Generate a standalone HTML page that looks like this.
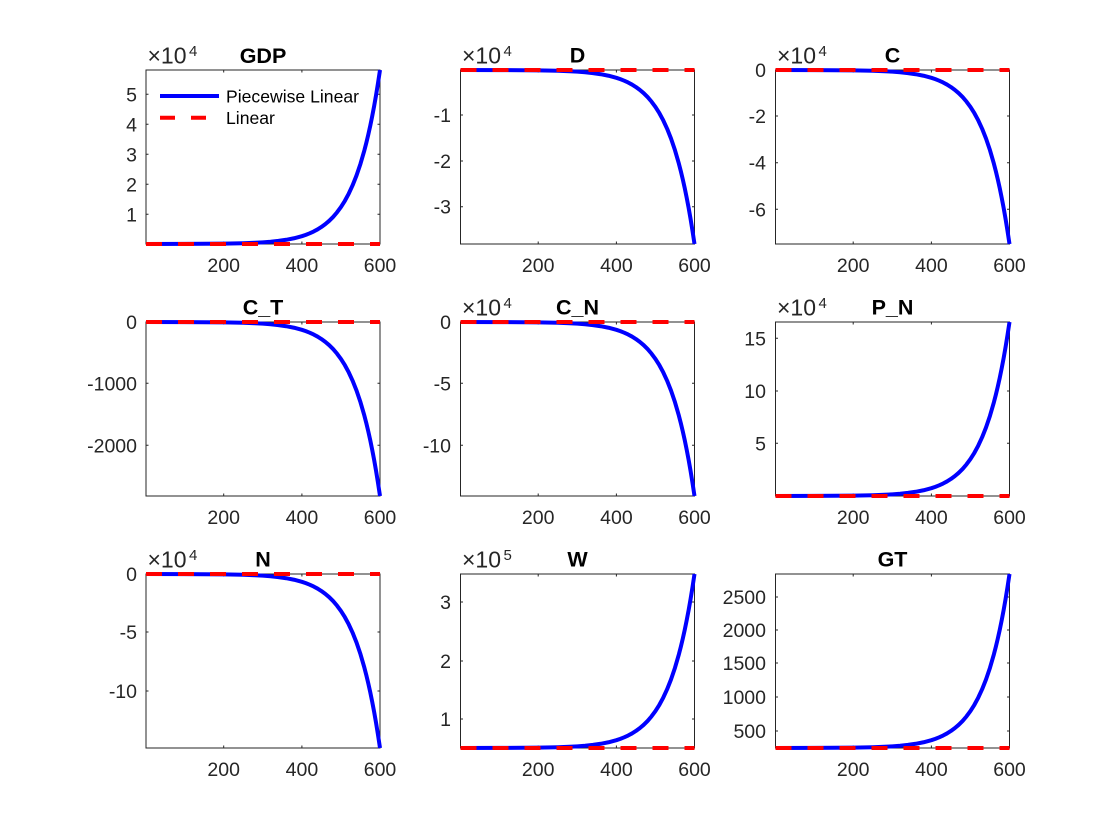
<!DOCTYPE html>
<html>
<head>
<meta charset="utf-8">
<style>
  html,body{margin:0;padding:0;background:#ffffff;}
  svg{display:block;}
  text{font-family:"Liberation Sans",Arial,Helvetica,sans-serif;}
  .tk{font-size:19.5px;fill:#262626;}
  .yl{text-anchor:end;}
  .xl{text-anchor:middle;}
  .ti{font-size:21.5px;font-weight:bold;fill:#000;text-anchor:middle;}
  .ex{font-size:23px;fill:#262626;}
  .es{font-size:15px;fill:#262626;}
  .lg{font-size:17.6px;fill:#000;}
  .ax{fill:#fff;stroke:#262626;stroke-width:1;}
  .tks{stroke:#262626;stroke-width:1;fill:none;}
  .bl{fill:none;stroke:#0000ff;stroke-width:4;stroke-linejoin:round;}
  .rd{stroke:#ff0000;stroke-width:4;stroke-dasharray:16 16;fill:none;}
</style>
</head>
<body>
<svg width="1120" height="840" viewBox="0 0 1120 840" xmlns="http://www.w3.org/2000/svg">
<defs>
<path id="cv" d="M0,0 L38.67,0.07 L77.74,0.35 L97.27,0.77 L108.99,1.22 L116.8,1.67 L124.62,2.26 L132.43,3.1 L140.24,4.21 L148.06,5.74 L155.87,7.83 L159.78,9.15 L163.68,10.68 L167.59,12.48 L171.49,14.56 L175.4,17.02 L179.3,19.87 L183.21,23.19 L187.12,27.09 L191.02,31.63 L194.93,36.92 L198.83,43.12 L202.74,50.36 L206.64,58.79 L210.55,68.66 L214.46,80.16 L218.36,93.59 L220.31,101.15 L222.27,109.31 L224.22,118.11 L226.17,127.61 L228.13,137.9 L230.08,149.01 L232.03,161.02 L234,174"/>
</defs>

<!-- GDP -->
<g>
<rect class="ax" x="146" y="70" width="234" height="174"/>
<path class="tks" d="M223.7,244v-2.5M301.9,244v-2.5M223.7,70v2.5M301.9,70v2.5
M146,214.3h2.5M146,184.3h2.5M146,154.3h2.5M146,124.3h2.5M146,94.3h2.5
M380,214.3h-2.5M380,184.3h-2.5M380,154.3h-2.5M380,124.3h-2.5M380,94.3h-2.5"/>
<use href="#cv" class="bl" transform="translate(146,244) scale(1,-1)"/>
<line class="rd" x1="146" y1="244" x2="380" y2="244"/>
<text class="tk yl" x="137" y="221.3">1</text>
<text class="tk yl" x="137" y="191.3">2</text>
<text class="tk yl" x="137" y="161.3">3</text>
<text class="tk yl" x="137" y="131.3">4</text>
<text class="tk yl" x="137" y="101.3">5</text>
<text class="tk xl" x="223.7" y="272">200</text>
<text class="tk xl" x="301.9" y="272">400</text>
<text class="tk xl" x="380" y="272">600</text>
<text class="ti" x="263" y="62.8">GDP</text>
<text class="ex" x="147.5" y="63.5">×10</text>
<text class="es" x="189" y="56">4</text>
<line x1="160" y1="96" x2="219" y2="96" stroke="#0000ff" stroke-width="4"/>
<text class="lg" x="226" y="102.3">Piecewise Linear</text>
<line x1="160" y1="117.7" x2="219" y2="117.7" stroke="#ff0000" stroke-width="4" stroke-dasharray="15 16"/>
<text class="lg" x="226" y="124">Linear</text>
</g>

<!-- D -->
<g>
<rect class="ax" x="460.5" y="70" width="234" height="174"/>
<path class="tks" d="M538.2,244v-2.5M616.4,244v-2.5M538.2,70v2.5M616.4,70v2.5
M460.5,115h2.5M460.5,161h2.5M460.5,206.7h2.5
M694.5,115h-2.5M694.5,161h-2.5M694.5,206.7h-2.5"/>
<use href="#cv" class="bl" transform="translate(460.5,70)"/>
<line class="rd" x1="460.5" y1="70" x2="694.5" y2="70"/>
<text class="tk yl" x="451" y="122">-1</text>
<text class="tk yl" x="451" y="168">-2</text>
<text class="tk yl" x="451" y="213.7">-3</text>
<text class="tk xl" x="538.2" y="272">200</text>
<text class="tk xl" x="616.4" y="272">400</text>
<text class="tk xl" x="694.5" y="272">600</text>
<text class="ti" x="577.5" y="62.5">D</text>
<text class="ex" x="462" y="63.5">×10</text>
<text class="es" x="503.5" y="56">4</text>
</g>

<!-- C -->
<g>
<rect class="ax" x="775.5" y="70" width="234" height="174"/>
<path class="tks" d="M853.2,244v-2.5M931.4,244v-2.5M853.2,70v2.5M931.4,70v2.5
M775.5,116h2.5M775.5,162.7h2.5M775.5,209.3h2.5
M1009.5,116h-2.5M1009.5,162.7h-2.5M1009.5,209.3h-2.5"/>
<use href="#cv" class="bl" transform="translate(775.5,70)"/>
<line class="rd" x1="775.5" y1="70" x2="1009.5" y2="70"/>
<text class="tk yl" x="766" y="77">0</text>
<text class="tk yl" x="766" y="123">-2</text>
<text class="tk yl" x="766" y="169.7">-4</text>
<text class="tk yl" x="766" y="216.3">-6</text>
<text class="tk xl" x="853.2" y="272">200</text>
<text class="tk xl" x="931.4" y="272">400</text>
<text class="tk xl" x="1009.5" y="272">600</text>
<text class="ti" x="892.5" y="62.5">C</text>
<text class="ex" x="777" y="63.5">×10</text>
<text class="es" x="818.5" y="56">4</text>
</g>

<!-- C_T -->
<g>
<rect class="ax" x="146" y="322" width="234" height="174"/>
<path class="tks" d="M223.7,496v-2.5M301.9,496v-2.5M223.7,322v2.5M301.9,322v2.5
M146,383.3h2.5M146,445.3h2.5
M380,383.3h-2.5M380,445.3h-2.5"/>
<use href="#cv" class="bl" transform="translate(146,322)"/>
<line class="rd" x1="146" y1="322" x2="380" y2="322"/>
<text class="tk yl" x="137" y="329">0</text>
<text class="tk yl" x="137" y="390.3">-1000</text>
<text class="tk yl" x="137" y="452.3">-2000</text>
<text class="tk xl" x="223.7" y="524">200</text>
<text class="tk xl" x="301.9" y="524">400</text>
<text class="tk xl" x="380" y="524">600</text>
<text class="ti" x="263" y="314.5">C_T</text>
</g>

<!-- C_N -->
<g>
<rect class="ax" x="460.5" y="322" width="234" height="174"/>
<path class="tks" d="M538.2,496v-2.5M616.4,496v-2.5M538.2,322v2.5M616.4,322v2.5
M460.5,383.3h2.5M460.5,445.3h2.5
M694.5,383.3h-2.5M694.5,445.3h-2.5"/>
<use href="#cv" class="bl" transform="translate(460.5,322)"/>
<line class="rd" x1="460.5" y1="322" x2="694.5" y2="322"/>
<text class="tk yl" x="451" y="329">0</text>
<text class="tk yl" x="451" y="390.3">-5</text>
<text class="tk yl" x="451" y="452.3">-10</text>
<text class="tk xl" x="538.2" y="524">200</text>
<text class="tk xl" x="616.4" y="524">400</text>
<text class="tk xl" x="694.5" y="524">600</text>
<text class="ti" x="577.5" y="314.5">C_N</text>
<text class="ex" x="462" y="315.5">×10</text>
<text class="es" x="503.5" y="308">4</text>
</g>

<!-- P_N -->
<g>
<rect class="ax" x="775.5" y="322" width="234" height="174"/>
<path class="tks" d="M853.2,496v-2.5M931.4,496v-2.5M853.2,322v2.5M931.4,322v2.5
M775.5,338.3h2.5M775.5,391h2.5M775.5,443.3h2.5
M1009.5,338.3h-2.5M1009.5,391h-2.5M1009.5,443.3h-2.5"/>
<use href="#cv" class="bl" transform="translate(775.5,496) scale(1,-1)"/>
<line class="rd" x1="775.5" y1="496" x2="1009.5" y2="496"/>
<text class="tk yl" x="766" y="345.3">15</text>
<text class="tk yl" x="766" y="398">10</text>
<text class="tk yl" x="766" y="450.3">5</text>
<text class="tk xl" x="853.2" y="524">200</text>
<text class="tk xl" x="931.4" y="524">400</text>
<text class="tk xl" x="1009.5" y="524">600</text>
<text class="ti" x="892.5" y="314.5">P_N</text>
<text class="ex" x="777" y="315.5">×10</text>
<text class="es" x="818.5" y="308">4</text>
</g>

<!-- N -->
<g>
<rect class="ax" x="146" y="574" width="234" height="174"/>
<path class="tks" d="M223.7,748v-2.5M301.9,748v-2.5M223.7,574v2.5M301.9,574v2.5
M146,632h2.5M146,691h2.5
M380,632h-2.5M380,691h-2.5"/>
<use href="#cv" class="bl" transform="translate(146,574)"/>
<line class="rd" x1="146" y1="574" x2="380" y2="574"/>
<text class="tk yl" x="137" y="581">0</text>
<text class="tk yl" x="137" y="639">-5</text>
<text class="tk yl" x="137" y="698">-10</text>
<text class="tk xl" x="223.7" y="776">200</text>
<text class="tk xl" x="301.9" y="776">400</text>
<text class="tk xl" x="380" y="776">600</text>
<text class="ti" x="263" y="566.5">N</text>
<text class="ex" x="147.5" y="567.5">×10</text>
<text class="es" x="189" y="560">4</text>
</g>

<!-- W -->
<g>
<rect class="ax" x="460.5" y="574" width="234" height="174"/>
<path class="tks" d="M538.2,748v-2.5M616.4,748v-2.5M538.2,574v2.5M616.4,574v2.5
M460.5,602h2.5M460.5,661h2.5M460.5,719h2.5
M694.5,602h-2.5M694.5,661h-2.5M694.5,719h-2.5"/>
<use href="#cv" class="bl" transform="translate(460.5,748) scale(1,-1)"/>
<line class="rd" x1="460.5" y1="748" x2="694.5" y2="748"/>
<text class="tk yl" x="451" y="609">3</text>
<text class="tk yl" x="451" y="668">2</text>
<text class="tk yl" x="451" y="726">1</text>
<text class="tk xl" x="538.2" y="776">200</text>
<text class="tk xl" x="616.4" y="776">400</text>
<text class="tk xl" x="694.5" y="776">600</text>
<text class="ti" x="577.5" y="566.5">W</text>
<text class="ex" x="462" y="567.5">×10</text>
<text class="es" x="503.5" y="560">5</text>
</g>

<!-- GT -->
<g>
<rect class="ax" x="775.5" y="574" width="234" height="174"/>
<path class="tks" d="M853.2,748v-2.5M931.4,748v-2.5M853.2,574v2.5M931.4,574v2.5
M775.5,597h2.5M775.5,630h2.5M775.5,663h2.5M775.5,697h2.5M775.5,731h2.5
M1009.5,597h-2.5M1009.5,630h-2.5M1009.5,663h-2.5M1009.5,697h-2.5M1009.5,731h-2.5"/>
<use href="#cv" class="bl" transform="translate(775.5,748) scale(1,-1)"/>
<line class="rd" x1="775.5" y1="748" x2="1009.5" y2="748"/>
<text class="tk yl" x="766" y="604">2500</text>
<text class="tk yl" x="766" y="637">2000</text>
<text class="tk yl" x="766" y="670">1500</text>
<text class="tk yl" x="766" y="704">1000</text>
<text class="tk yl" x="766" y="738">500</text>
<text class="tk xl" x="853.2" y="776">200</text>
<text class="tk xl" x="931.4" y="776">400</text>
<text class="tk xl" x="1009.5" y="776">600</text>
<text class="ti" x="892.5" y="566.5">GT</text>
</g>
</svg>
</body>
</html>
